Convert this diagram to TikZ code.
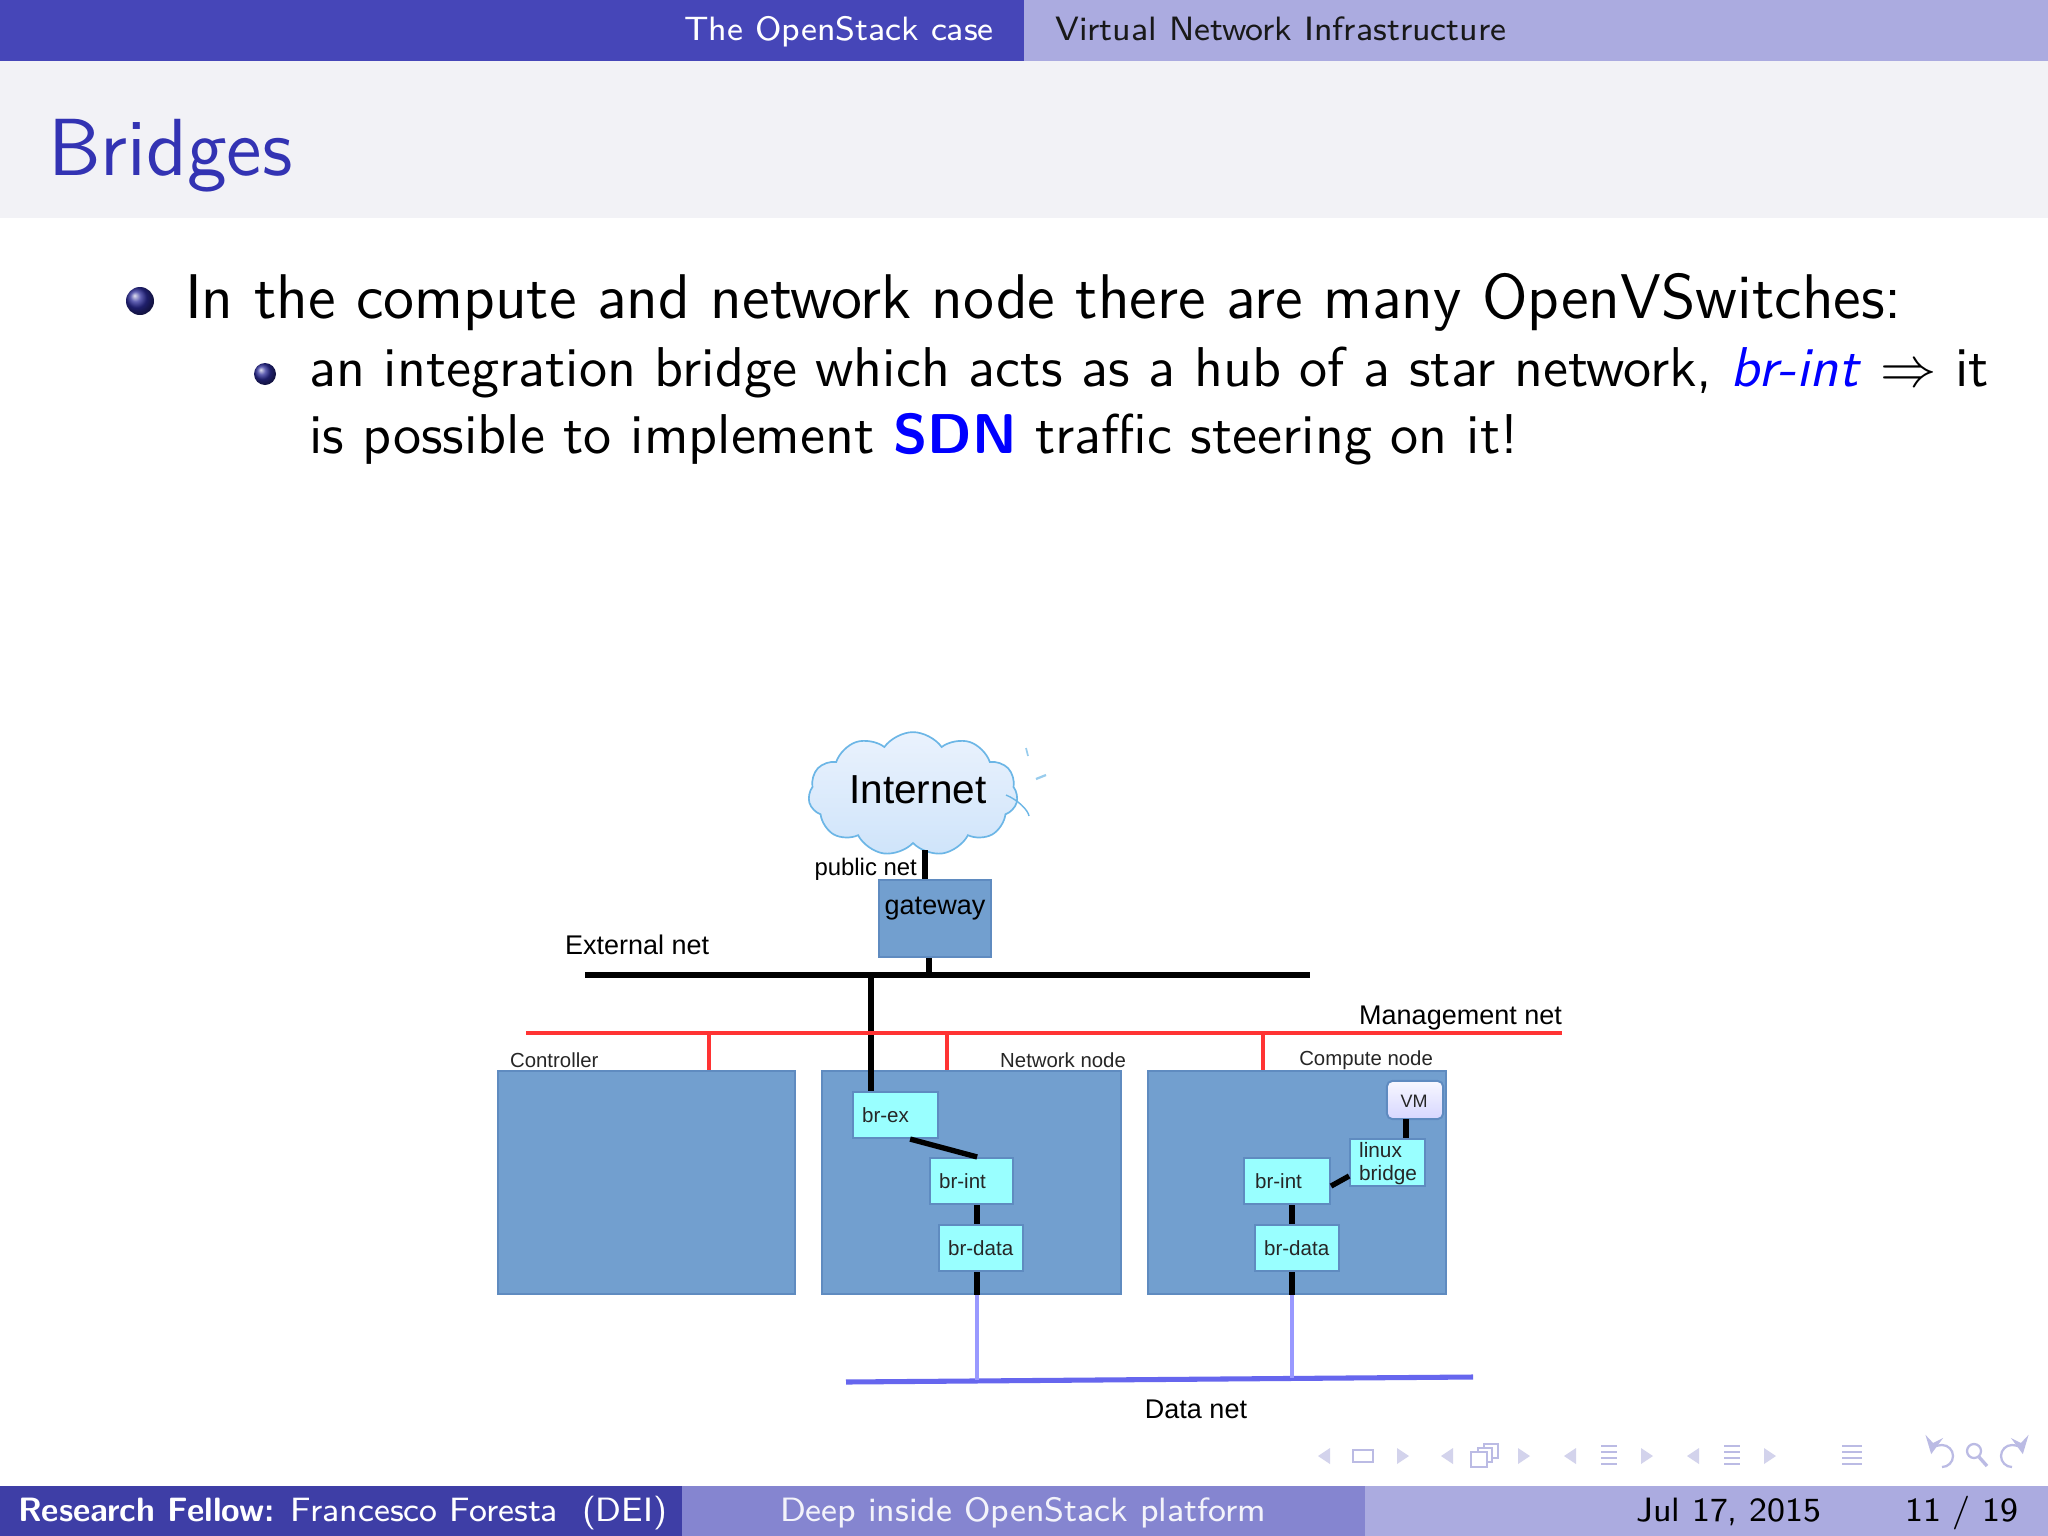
\documentclass[tikz,border=0pt]{standalone}
\usepackage{fontspec}
\usetikzlibrary{shapes.symbols}
\newfontfamily\diagfont{Liberation Sans}

\definecolor{headdark}{HTML}{4646B8}
\definecolor{headlight}{HTML}{ABABE0}
\definecolor{footdark}{HTML}{3E3EA6}
\definecolor{footmid}{HTML}{8585D0}
\definecolor{titleband}{HTML}{F2F2F6}
\definecolor{titleblue}{HTML}{3333B3}
\definecolor{hostblue}{HTML}{729FCF}
\definecolor{hostedge}{HTML}{5F8BC0}
\definecolor{bridgecyan}{HTML}{99FFFF}
\definecolor{mgmtred}{HTML}{FF3333}
\definecolor{datablue}{HTML}{6666EE}
\definecolor{droplilac}{HTML}{9999FF}
\definecolor{navfaint}{HTML}{D3D3EC}
\definecolor{navicon}{HTML}{BBBBE4}
\definecolor{cloudedge}{HTML}{6CB6E6}
\definecolor{cloudtop}{HTML}{EAF2FD}
\definecolor{cloudbottom}{HTML}{CFE4FA}

\tikzset{
    host/.style={draw=hostedge, line width=0.35pt, fill=hostblue, inner sep=0pt},
    bridge/.style={draw=hostedge, line width=0.35pt, fill=bridgecyan, inner sep=0pt},
    netlabel/.style={font=\diagfont\fontsize{4.8}{6}\selectfont, text=black, inner sep=0pt},
    hostlabel/.style={font=\diagfont\fontsize{3.62}{4.5}\selectfont, text=black!85, inner sep=0pt},
    bridgelabel/.style={font=\diagfont\fontsize{3.65}{4.5}\selectfont, text=black!85, inner sep=0pt},
    wire/.style={line width=0.95pt, black},
    mgmtwire/.style={line width=0.85pt, mgmtred},
    datawire/.style={line width=0.85pt, droplilac},
    bodytext/.style={font=\sffamily\fontsize{11.22}{13}\selectfont, inner sep=0pt, anchor=base west},
    subtext/.style={font=\sffamily\fontsize{9.97}{12}\selectfont, inner sep=0pt, anchor=base west},
    bartext/.style={font=\sffamily\fontsize{6}{7}\selectfont, inner sep=0pt},
}

\begin{document}
\begin{tikzpicture}[x=0.17773pt, y=-0.17773pt]
    \useasboundingbox (0,0) rectangle (2048,1536);
    \fill[white] (0,0) rectangle (2048,1536);

    % slide frame
    \fill[headdark] (0,0) rectangle (1024,61);
    \fill[headlight] (1024,0) rectangle (2048,61);
    \fill[titleband] (0,61) rectangle (2048,218);
    \fill[footdark] (0,1486) rectangle (682,1536);
    \fill[footmid] (682,1486) rectangle (1365,1536);
    \fill[headlight] (1365,1486) rectangle (2048,1536);

    \node[bartext, anchor=base east, white] (sectionname) at (995,40) {The OpenStack case};
    \node[bartext, anchor=base west, black!90] (subsectionname) at (1054,40) {Virtual Network Infrastructure};
    \node[font=\sffamily\fontsize{14.4}{17}\selectfont, inner sep=0pt, anchor=base west, titleblue] (slidetitle) at (47,175) {Bridges};

    \node[bartext, anchor=base west, white] (authorname) at (17,1521) {\textbf{Research Fellow:} Francesco Foresta\ \ (DEI)};
    \node[bartext, anchor=base, white!90!footmid] (talkname) at (1023,1521) {Deep inside OpenStack platform};
    \node[bartext, anchor=base west, black] (talkdate) at (1635,1521) {Jul 17, 2015};
    \node[bartext, anchor=base west, black] (pagenum) at (1904,1521) {11 / 19};

    % bullets
    \shade[ball color=titleblue!85!black] (140,301) circle (14);
    \shade[ball color=titleblue!85!black] (265,374) circle (11);
    \node[bodytext] (firstline) at (184,318) {In the compute and network node there are many OpenVSwitches:};
    \node[subtext] (secondline) at (308,386) {an integration bridge which acts as a hub of a star network, \textcolor{blue}{\textit{br-int}} $\Rightarrow$ it};
    \node[subtext] (thirdline) at (308,453) {is possible to implement \textcolor{blue}{\textbf{SDN}} traffic steering on it!};

    % hosts
    \node[host, minimum width=52.8pt, minimum height=39.6pt] (controller) at (646.5,1182.5) {};
    \node[host, minimum width=53.1pt, minimum height=39.6pt] (networknode) at (971.5,1182.5) {};
    \node[host, minimum width=53pt, minimum height=39.6pt] (computenode) at (1297,1182.5) {};
    \node[host, minimum width=19.9pt, minimum height=13.7pt] (gateway) at (935,918.5) {};

    \node[netlabel, anchor=center] (gatewaytext) at (935,909) {gateway};
    \node[netlabel, anchor=west] (externaltext) at (564,945) {External net};
    \node[netlabel, anchor=east] (mgmttext) at (1563,1018) {Management net};
    \node[netlabel, anchor=center] (datatext) at (1196,1409) {Data net};
    \node[netlabel, anchor=east, font=\diagfont\fontsize{4.25}{5.5}\selectfont] (publictext) at (918,869) {public net};
    \node[hostlabel, anchor=west] (controllertext) at (509,1060) {Controller};
    \node[hostlabel, anchor=east] (networktext) at (1127,1060) {Network node};
    \node[hostlabel, anchor=east] (computetext) at (1434,1060) {Compute node};

    % internet
    \node[cloud, cloud puffs=11, cloud puff arc=110, aspect=1.75, draw=cloudedge, line width=0.3pt,
        top color=cloudtop, bottom color=cloudbottom, inner sep=0pt, minimum width=37.2pt, minimum height=22pt] (internet) at (913,794) {};
    \node[netlabel, font=\diagfont\fontsize{7.2}{9}\selectfont] (internettext) at (918,790) {Internet};
    \draw[cloudedge, line width=0.25pt] (1006,795) .. controls (1018,800) and (1028,810) .. (1029,816);
    \draw[cloudedge!70, line width=0.3pt] (1026,748) -- (1028,756);
    \draw[cloudedge!70, line width=0.4pt] (1036,779) -- (1046,775);

    % bridges, network node
    \node[bridge, minimum width=15.1pt, minimum height=8.2pt] (brexnet) at (895.5,1115) {};
    \node[bridge, minimum width=14.8pt, minimum height=8.2pt] (brintnet) at (971.5,1181) {};
    \node[bridge, minimum width=14.9pt, minimum height=8.2pt] (brdatanet) at (981,1248) {};
    \node[bridgelabel, anchor=west] at (861,1115) {br-ex};
    \node[bridgelabel, anchor=west] at (938,1181) {br-int};
    \node[bridgelabel, anchor=west] at (947,1248) {br-data};

    % bridges, compute node
    \node[bridge, minimum width=15.3pt, minimum height=8.2pt] (brintcmp) at (1287,1181) {};
    \node[bridge, minimum width=14.9pt, minimum height=8.2pt] (brdatacmp) at (1297,1248) {};
    \node[bridge, minimum width=13.3pt, minimum height=8.4pt] (linuxbr) at (1387.5,1162.5) {};
    \node[draw=hostedge, line width=0.35pt, rounded corners=1pt, top color=blue!3, bottom color=blue!16,
        inner sep=0pt, minimum width=10pt, minimum height=6.8pt] (vm) at (1415,1100) {};
    \node[bridgelabel, anchor=west] at (1254,1181) {br-int};
    \node[bridgelabel, anchor=west] at (1263,1248) {br-data};
    \node[bridgelabel, anchor=north west, align=left, font=\diagfont\fontsize{3.7}{4.2}\selectfont] at (1358,1141) {linux\\bridge};
    \node[bridgelabel, font=\diagfont\fontsize{3.2}{4.5}\selectfont] at (1414,1101) {VM};

    % free ends of the nets
    \coordinate (extleft) at (585,975);
    \coordinate (extright) at (1310,975);
    \coordinate (mgmtleft) at (526,1033);
    \coordinate (mgmtright) at (1562,1033);
    \coordinate (dataleft) at (846,1382);
    \coordinate (dataright) at (1473,1377);
    \coordinate (cloudfoot) at (925,850);
    \coordinate (tapgateway) at (929,975);
    \coordinate (tapbrex) at (871,975);
    \coordinate (tapctl) at (709,1033);
    \coordinate (tapnet) at (947,1033);
    \coordinate (tapcmp) at (1263,1033);
    \coordinate (datanet) at (977,1380);
    \coordinate (datacmp) at (1292,1378);
    \coordinate (vmlink) at (1406,1119);

    % nets
    \draw[wire] (extleft) -- (extright);
    \draw[wire] (cloudfoot) -- (cloudfoot |- gateway.north);
    \draw[wire] (gateway.south -| tapgateway) -- (tapgateway);
    \draw[wire] (tapbrex) -- (tapbrex |- brexnet.north);
    \draw[mgmtwire] (mgmtleft) -- (mgmtright);
    \draw[mgmtwire] (tapctl) -- (tapctl |- controller.north);
    \draw[mgmtwire] (tapnet) -- (tapnet |- networknode.north);
    \draw[mgmtwire] (tapcmp) -- (tapcmp |- computenode.north);
    \draw[line width=0.9pt, datablue] (dataleft) -- (dataright);

    % links, network node
    \draw[wire] ([xshift=2.6pt]brexnet.south) -- ([xshift=1pt]brintnet.north);
    \draw[wire] (brintnet.south -| datanet) -- (brdatanet.north -| datanet);
    \draw[wire] (brdatanet.south -| datanet) -- (networknode.south -| datanet);
    \draw[datawire] (networknode.south -| datanet) -- (datanet);

    % links, compute node
    \draw[wire] (brintcmp.south -| datacmp) -- (brdatacmp.north -| datacmp);
    \draw[wire] (brdatacmp.south -| datacmp) -- (computenode.south -| datacmp);
    \draw[datawire] (computenode.south -| datacmp) -- (datacmp);
    \draw[wire] ([yshift=-0.9pt]brintcmp.east) -- ([yshift=-2.4pt]linuxbr.west);
    \draw[wire] (vmlink) -- (vmlink |- linuxbr.north);

    % navigation
    \foreach \x in {1447,1570,1693,1324}
        \fill[navfaint] (\x-6,1456) -- (\x+6,1448) -- (\x+6,1464) -- cycle;
    \foreach \x in {1403,1524,1647,1770}
        \fill[navfaint] (\x+6,1456) -- (\x-6,1448) -- (\x-6,1464) -- cycle;
    \draw[navicon, line width=0.4pt] (1353,1450) rectangle (1373,1462);
    \draw[navicon, line width=0.4pt, fill=white] (1484,1444) rectangle (1498,1458);
    \draw[navicon, line width=0.4pt, fill=white] (1478,1448) rectangle (1492,1462);
    \draw[navicon, line width=0.4pt, fill=white] (1471,1452) rectangle (1487,1467);
    \foreach \x/\w in {1609/8,1732/8,1852/10}
        \foreach \y in {1446,1452,1458,1464}
            \draw[navicon, line width=0.5pt] (\x-\w,\y) -- (\x+\w,\y);
    \draw[navicon, line width=0.4pt, -stealth] (1942,1467) arc (90:-170:11);
    \draw[navicon, line width=0.4pt] (1974,1451) circle (7);
    \draw[navicon, line width=0.6pt] (1979,1457) -- (1987,1466);
    \draw[navicon, line width=0.4pt, -stealth] (2012,1467) arc (90:350:11);
\end{tikzpicture}
\end{document}
